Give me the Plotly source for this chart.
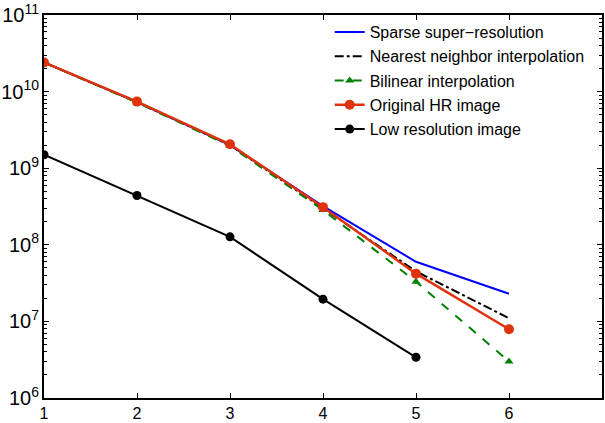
import plotly.graph_objects as go

x = [1, 2, 3, 4, 5, 6]
x_low = [1, 2, 3, 4, 5]
sparse_sr = [2.4e10, 7.3e9, 2.0e9, 3.2e8, 6.0e7, 2.3e7]
nearest = [2.4e10, 7.3e9, 2.0e9, 3.0e8, 4.5e7, 1.1e7]
bilinear = [2.4e10, 7.2e9, 1.95e9, 2.85e8, 3.3e7, 3.0e6]
original = [2.4e10, 7.4e9, 2.05e9, 3.1e8, 4.2e7, 7.9e6]
low_res = [1.5e9, 4.4e8, 1.27e8, 1.95e7, 3.4e6]
x_ticks = [1, 2, 3, 4, 5, 6]

red = "#E0320C"
fig = go.Figure()
fig.add_trace(go.Scatter(x=x, y=sparse_sr, mode="lines", name="Sparse super\u2212resolution",
                         legendgroup="a", line=dict(color="#0000FF", width=2)))
fig.add_trace(go.Scatter(x=x, y=nearest, mode="lines", name="Nearest neighbor interpolation",
                         legendgroup="b", line=dict(color="black", width=2, dash="dashdot")))
fig.add_trace(go.Scatter(x=x, y=bilinear, mode="lines+markers", name="Bilinear interpolation",
                         legendgroup="c", line=dict(color="#008000", width=2, dash="dash"),
                         marker=dict(symbol="triangle-up", size=8, color="#008000")))
fig.add_trace(go.Scatter(x=x, y=original, mode="lines+markers", name="Original HR image",
                         legendgroup="d", line=dict(color=red, width=2.5),
                         marker=dict(symbol="circle", size=10, color=red)))
fig.add_trace(go.Scatter(x=x_low, y=low_res, mode="lines+markers", name="Low resolution image",
                         legendgroup="e", line=dict(color="black", width=2),
                         marker=dict(symbol="circle", size=9, color="black")))

fig.update_layout(
    width=605, height=423,
    margin=dict(l=40, r=1, t=11, b=25),
    paper_bgcolor="white", plot_bgcolor="white",
    font=dict(family="Liberation Sans, Arial, sans-serif", size=16, color="black"),
    showlegend=True,
    legend=dict(x=0.512, y=1.0, xanchor="left", yanchor="top", bgcolor="rgba(0,0,0,0)",
                borderwidth=0, font=dict(size=16), tracegroupgap=0.5, itemwidth=30),
)
fig.update_xaxes(range=[1, 7], tickvals=x_ticks, ticktext=[str(v) for v in x_ticks],
                 showgrid=False, zeroline=False, showline=True, linecolor="black", linewidth=1.5,
                 mirror="ticks", ticks="inside", ticklen=5, tickcolor="black",
                 tickfont=dict(size=16), ticklabeloverflow="allow")
fig.update_yaxes(type="log", range=[6, 11], dtick=1, exponentformat="power",
                 showgrid=False, zeroline=False, showline=True, linecolor="black", linewidth=1.5,
                 mirror="ticks", ticks="inside", ticklen=5, tickcolor="black",
                 tickfont=dict(size=16), ticklabeloverflow="allow",
                 minor=dict(ticks="inside", ticklen=3, tickcolor="black", dtick="D1", showgrid=False))

fig.write_html("out.html", config={"displayModeBar": False},
               post_script="document.body.style.margin='0';")
